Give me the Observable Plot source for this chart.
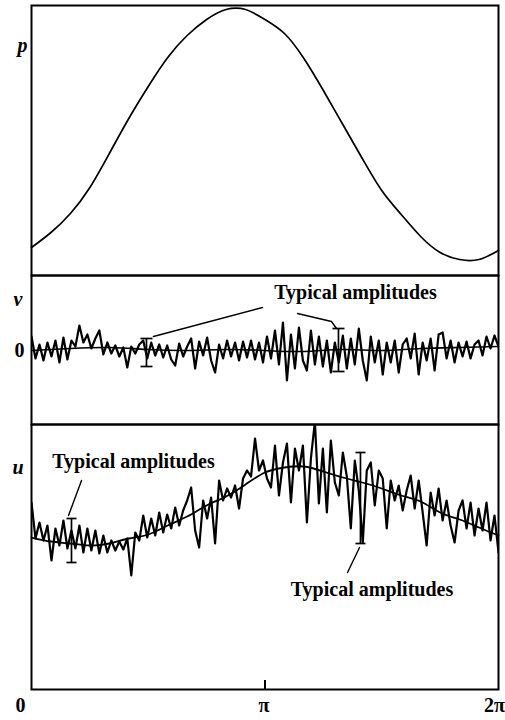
<!DOCTYPE html>
<html><head><meta charset="utf-8">
<script src="https://cdn.jsdelivr.net/npm/d3@7"></script>
<script src="https://cdn.jsdelivr.net/npm/@observablehq/plot@0.6"></script>
<style>
html,body{margin:0;padding:0;background:#fff;}
#chart{position:relative;width:505px;height:720px;}
#chart svg{position:absolute;left:0;overflow:visible;background:transparent;}
</style></head><body><div id="chart"></div>
<script>
// ---- data ----
const xTickLabels = ["0", "π", "2π"];
const xTickValues = [0, Math.PI, 2 * Math.PI];

// p: smooth curve, sampled at θ = kπ/12, k = 0..24
const pValues = [28, 43, 62, 88, 122, 157, 189, 218, 240, 256, 266, 266, 256,
  242, 217, 185, 151, 117, 85, 61, 39, 23, 16, 16, 25];

// u: mean (smooth) curve, θ = kπ/12
const uMean = [152, 148, 146, 144, 146, 151, 155, 164, 173, 184, 193, 205, 217,
  222, 223, 218, 212, 207, 201, 194, 188, 177, 170, 162, 154];

// v: mean curve, θ = kπ/6
const vMean = [0, 2, 3, 1, 0, 1, 0, -1, 1, 0, 2, 3, 4];

// v: fluctuating trace, 118 samples over 0..2π
const vTrace = [
  14, -8, 6, -10, 8, -6, 10, -12,
  13, -9, 10, 4, 25, 8, 16, 2,
  12, 20, -4, 8, -3, 5, -6, 3,
  -17, 4, -3, 6, 10, -8, 8, -5,
  6, -7, 5, -9, -15, 7, -6, 4,
  12, -18, 9, -5, 13, -10, -22, 6,
  -8, 10, -6, 8, -10, 9, -7, 10,
  -9, 8, -12, 14, -8, 20, -14, 28,
  -30, 16, -18, 23, -10, -20, 20, -14,
  14, -16, 10, -22, 8, -12, 15, -18,
  12, -14, 22, -10, -30, 14, -12, 10,
  -24, 8, -12, 10, -22, 6, 12, -8,
  17, -24, 8, -10, 12, -20, 16, 18,
  -8, 10, -12, 8, -6, 9, -8, 6,
  10, -5, 14, 2, 15, 4];

// u: fluctuating trace, 118 samples over 0..2π
const uTrace = [
  187, 151, 167, 149, 164, 129, 161, 144,
  169, 141, 159, 141, 164, 137, 161, 139,
  159, 136, 154, 137, 149, 139, 148, 140,
  151, 114, 157, 149, 174, 152, 171, 154,
  177, 157, 175, 161, 182, 164, 179, 189,
  202, 159, 142, 189, 171, 192, 146, 209,
  189, 201, 192, 204, 181, 211, 219, 213,
  251, 219, 229, 211, 202, 244, 194, 227,
  246, 187, 241, 219, 244, 167, 231, 268,
  186, 241, 177, 249, 207, 194, 237, 213,
  161, 229, 199, 147, 219, 227, 184, 219,
  211, 161, 209, 189, 204, 179, 199, 214,
  181, 209, 177, 144, 197, 174, 201, 169,
  189, 164, 147, 179, 189, 161, 187, 154,
  181, 159, 187, 149, 174, 137];

// annotations ("Typical amplitudes"): error bars and leader lines, data units
const vErrorBars = [{t: 1.547, lo: -16, hi: 12}, {t: 4.130, lo: -21, hi: 22}];
const vLeader1 = [{t: 3.108, v: 43}, {t: 1.641, v: 14}];
const vLeader2 = [{t: 3.579, v: 37}, {t: 4.036, v: 29}, {t: 4.104, v: 22}];
const uErrorBars = [{t: 0.538, lo: 127, hi: 171}, {t: 4.426, lo: 146, hi: 237}];
const uLeader1 = [{t: 0.673, u: 209}, {t: 0.498, u: 174}];
const uLeader2 = [{t: 4.252, u: 117}, {t: 4.413, u: 142}];
const annotationText = "Typical amplitudes";

// ---- drawing ----
const FONT = "'Liberation Serif', 'Times New Roman', serif";
const chart = document.getElementById("chart");
const X_DOMAIN = [0, 2 * Math.PI];
const smoothT = (arr) => arr.map((_, k) => k * 2 * Math.PI / (arr.length - 1));
const capSymbol = {draw(ctx, size) { const w = Math.sqrt(size / Math.PI); ctx.moveTo(-w, 0); ctx.lineTo(w, 0); }};

function panel({top, height, marginTop = 0, marginBottom = 0, yDomain, marks}) {
  const svg = Plot.plot({
    width: 505, height, marginLeft: 31, marginRight: 7, marginTop, marginBottom,
    x: {domain: X_DOMAIN, axis: null},
    y: {domain: yDomain, axis: null},
    style: {fontFamily: FONT, fontSize: "20px", fontWeight: "bold", background: "transparent", overflow: "visible", color: "black"},
    marks
  });
  svg.style.top = top + "px";
  chart.append(svg);
}

const lineStyle = {stroke: "black", strokeWidth: 1.7};
const labelStyle = {fontFamily: FONT, fontSize: 20, fontWeight: "bold", fill: "black"};

// p panel
const pData = pValues.map((p, k) => ({t: smoothT(pValues)[k], p}));
panel({
  top: 0, height: 275, marginTop: 5, yDomain: [0, 270],
  marks: [
    Plot.line(pData, {x: "t", y: "p", curve: "natural", stroke: "black", strokeWidth: 1.7}),
    Plot.frame({stroke: "black", strokeWidth: 2}),
    Plot.text(["p"], {text: d => d, frameAnchor: "left", y: () => 230, dx: -14, fontStyle: "italic", ...labelStyle})
  ]
});

// v panel
const vTraceData = vTrace.map((v, i) => ({t: i * 2 * Math.PI / (vTrace.length - 1), v}));
const vMeanData = vMean.map((v, k) => ({t: smoothT(vMean)[k], v}));
panel({
  top: 275, height: 149, yDomain: [-74, 75],
  marks: [
    Plot.line(vMeanData, {x: "t", y: "v", curve: "natural", stroke: "black", strokeWidth: 1.6}),
    Plot.line(vTraceData, {x: "t", y: "v", stroke: "black", strokeWidth: 2.2, strokeLinejoin: "round", clip: true}),
    Plot.ruleX(vErrorBars, {x: "t", y1: "lo", y2: "hi", ...lineStyle}),
    Plot.dot(vErrorBars, {x: "t", y: "lo", symbol: capSymbol, r: 6, fill: "none", ...lineStyle}),
    Plot.dot(vErrorBars, {x: "t", y: "hi", symbol: capSymbol, r: 6, fill: "none", ...lineStyle}),
    Plot.line(vLeader1, {x: "t", y: "v", stroke: "black", strokeWidth: 1.4}),
    Plot.line(vLeader2, {x: "t", y: "v", stroke: "black", strokeWidth: 1.4}),
    Plot.text([annotationText], {text: d => d, x: () => 4.359, y: () => 58, ...labelStyle}),
    Plot.frame({stroke: "black", strokeWidth: 2}),
    Plot.text(["v"], {text: d => d, frameAnchor: "left", y: () => 51, dx: -18, fontStyle: "italic", ...labelStyle}),
    Plot.text(["0"], {text: d => d, frameAnchor: "left", y: () => 0, dx: -17, ...labelStyle})
  ]
});

// u panel
const uTraceData = uTrace.map((u, i) => ({t: i * 2 * Math.PI / (uTrace.length - 1), u}));
const uMeanData = uMean.map((u, k) => ({t: smoothT(uMean)[k], u}));
const xLabelData = xTickValues.map((t, i) => ({t, label: xTickLabels[i]}));
panel({
  top: 424, height: 296, marginBottom: 31, yDomain: [0, 265],
  marks: [
    Plot.line(uMeanData, {x: "t", y: "u", curve: "natural", stroke: "black", strokeWidth: 1.8}),
    Plot.line(uTraceData, {x: "t", y: "u", stroke: "black", strokeWidth: 2.2, strokeLinejoin: "round", clip: true}),
    Plot.ruleX(uErrorBars, {x: "t", y1: "lo", y2: "hi", ...lineStyle}),
    Plot.dot(uErrorBars, {x: "t", y: "lo", symbol: capSymbol, r: 5, fill: "none", ...lineStyle}),
    Plot.dot(uErrorBars, {x: "t", y: "hi", symbol: capSymbol, r: 5, fill: "none", ...lineStyle}),
    Plot.line(uLeader1, {x: "t", y: "u", stroke: "black", strokeWidth: 1.4}),
    Plot.line(uLeader2, {x: "t", y: "u", stroke: "black", strokeWidth: 1.4}),
    Plot.text([annotationText], {text: d => d, x: () => 1.372, y: () => 228, ...labelStyle}),
    Plot.text([annotationText], {text: d => d, x: () => 4.581, y: () => 100, ...labelStyle}),
    Plot.ruleX([Math.PI], {x: d => d, y1: 0, y2: 9, stroke: "black", strokeWidth: 2}),
    Plot.frame({stroke: "black", strokeWidth: 2}),
    Plot.text(["u"], {text: d => d, frameAnchor: "left", y: () => 222, dx: -19, fontStyle: "italic", ...labelStyle}),
    Plot.text(xLabelData.filter(d => d.label === "0"), {x: "t", text: "label", frameAnchor: "bottom", lineAnchor: "top", dy: 8, dx: -11, ...labelStyle}),
    Plot.text(xLabelData.filter(d => d.label === "π"), {x: "t", text: "label", frameAnchor: "bottom", lineAnchor: "top", dy: 8, dx: -1, ...labelStyle}),
    Plot.text(xLabelData.filter(d => d.label === "2π"), {x: "t", text: "label", frameAnchor: "bottom", lineAnchor: "top", dy: 8, dx: -4, ...labelStyle})
  ]
});
</script></body></html>
